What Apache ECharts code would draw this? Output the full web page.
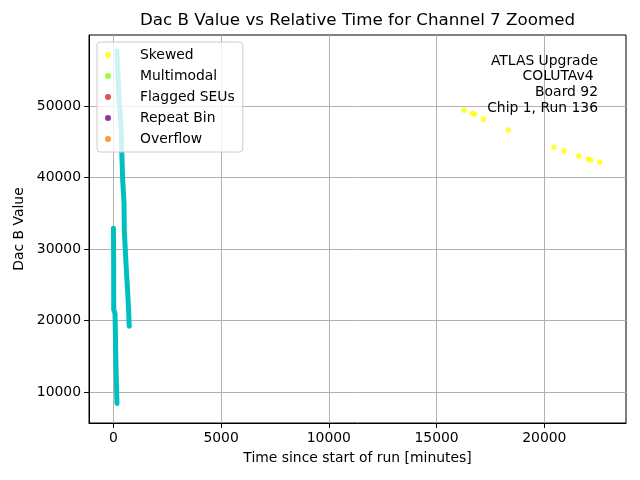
<!DOCTYPE html>
<html>
<head>
<meta charset="utf-8">
<script src="https://cdn.jsdelivr.net/npm/echarts@6/dist/echarts.min.js"></script>
<style>html,body{margin:0;padding:0;background:#fff;}#c{width:640px;height:480px;}</style>
</head>
<body>
<div id="c"></div>
<script>
// Dac B value traces (minutes, value)
const sweepA = [[5,32900],[15,28800],[20,21500],[80,21000],[120,14000],[170,8400]];
const sweepB = [[170,57700],[265,50800],[357,47600],[390,43800],[436,39600],[497,36400],[510,32600],[589,28000],[696,22400],[740,19200]];
// flagged categories
const skewed = [[16280,49400],[16670,48980],[16760,48840],[17170,48140],[18330,46640],[20450,44220],[20910,43710],[21600,42970],[22030,42590],[22150,42450],[22570,42130]];
const multimodal = [];
const flaggedSEUs = [];
const repeatBin = [];
const overflow = [];
const legendNames = ['Skewed','Multimodal','Flagged SEUs','Repeat Bin','Overflow'];
const legendColors = ['#ffff00','#7fff00','#d62728','#800080','#ff7f0e'];
const xTicks = [0,5000,10000,15000,20000];
const yTicks = [10000,20000,30000,40000,50000];
const annotation = ['ATLAS Upgrade','COLUTAv4 ','Board 92','Chip 1, Run 136'];

const FONT = 'DejaVu Sans';
const FS = 13.9;
const chart = echarts.init(document.getElementById('c'), null, {renderer:'canvas'});
const traceData = sweepA.concat([[null,null]], sweepB);
const flagSets = [skewed, multimodal, flaggedSEUs, repeatBin, overflow];

const series = [{
  type:'line', data: traceData, symbol:'none', connectNulls:false,
  lineStyle:{color:'#00bfbf', width:5, cap:'round', join:'round'},
  z:2, silent:true, animation:false
}];
legendNames.forEach((n,i)=>{
  series.push({type:'scatter', name:n, data:flagSets[i], symbolSize:5.5,
    itemStyle:{color:legendColors[i]}, z:3, animation:false});
});

const plain = v => String(Math.round(v));

chart.setOption({
  animation:false,
  textStyle:{fontFamily:FONT},
  title:{text:'Dac B Value vs Relative Time for Channel 7 Zoomed', left:357.5, textAlign:'center', top:12, padding:0,
    textStyle:{fontFamily:FONT, fontSize:16.7, fontWeight:'normal', color:'#000'}},
  grid:{left:89, right:14, top:35, bottom:57, show:true, borderColor:'#000', borderWidth:1, backgroundColor:'transparent'},
  legend:{orient:'vertical', left:97, top:42, data:legendNames, icon:'circle', itemWidth:20, itemHeight:6, itemGap:5,
    padding:[5,8,5,8], backgroundColor:'rgba(255,255,255,0.8)', borderColor:'#cccccc', borderWidth:1, borderRadius:3,
    textStyle:{fontFamily:FONT, fontSize:FS, color:'#000', lineHeight:16, padding:[0,0,0,17]}, selectedMode:false, z:10},
  xAxis:{type:'value', min:-1128, max:23791,
    name:'Time since start of run [minutes]', nameLocation:'middle', nameGap:28,
    nameTextStyle:{fontFamily:FONT, fontSize:FS, color:'#000'},
    axisLine:{onZero:false, lineStyle:{color:'#000', width:1}},
    axisTick:{show:true, length:4.9, lineStyle:{color:'#000'}, customValues:xTicks},
    axisLabel:{fontFamily:FONT, fontSize:FS, color:'#000', margin:8, customValues:xTicks, formatter:plain},
    splitLine:{show:true, lineStyle:{color:'#b0b0b0', width:1}}},
  yAxis:{type:'value', min:5660, max:59940,
    name:'Dac B Value', nameLocation:'middle', nameGap:56, nameRotate:90,
    nameTextStyle:{fontFamily:FONT, fontSize:FS, color:'#000'},
    axisLine:{show:true, onZero:false, lineStyle:{color:'#000', width:1}},
    axisTick:{show:true, length:4.9, lineStyle:{color:'#000'}, customValues:yTicks},
    axisLabel:{fontFamily:FONT, fontSize:FS, color:'#000', margin:8, customValues:yTicks, formatter:plain},
    splitLine:{show:true, lineStyle:{color:'#b0b0b0', width:1}}},
  graphic:[{type:'text', x:598, y:53, z:20,
    style:{text:annotation.join('\n'), font:FS + 'px "DejaVu Sans"', fill:'#000', align:'right', verticalAlign:'top', lineHeight:15.9}}],
  series: series
});
</script>
</body>
</html>
